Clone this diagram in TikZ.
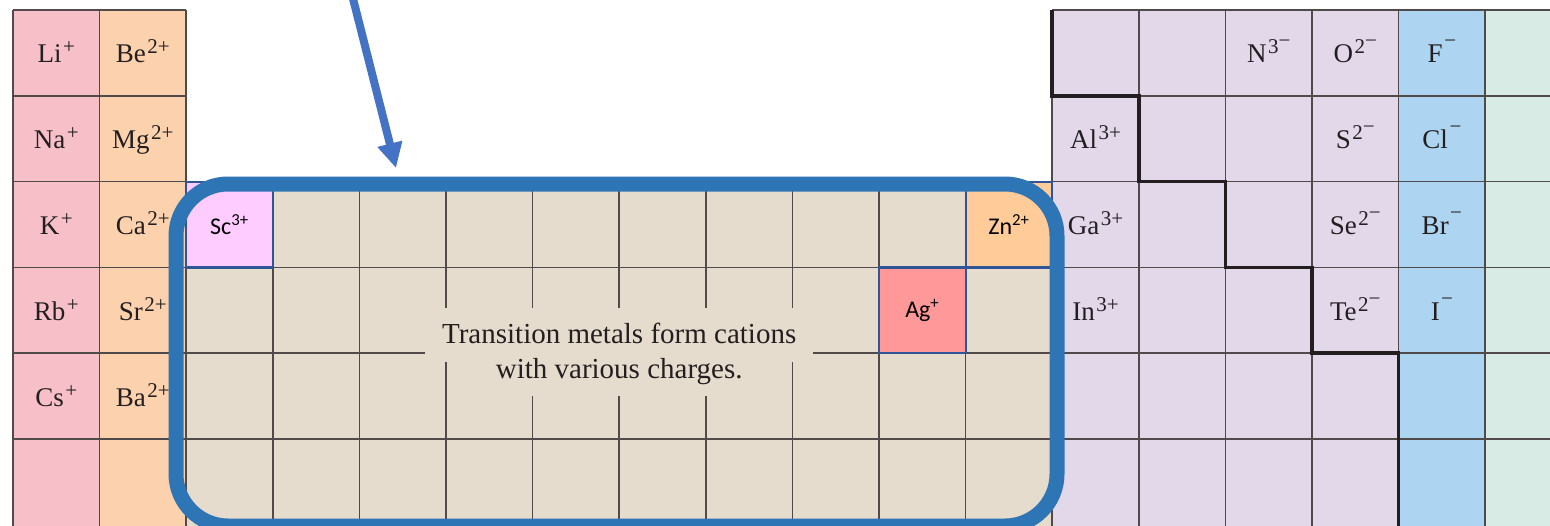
\documentclass[tikz,border=0pt]{standalone}
\usepackage{fontspec}
\setmainfont{Liberation Serif}
\newfontfamily\calfont{Carlito}
\usetikzlibrary{arrows.meta}
\definecolor{alkali}{HTML}{F7C0C9}
\definecolor{alkearth}{HTML}{FCD2AE}
\definecolor{transit}{HTML}{E6DCCE}
\definecolor{pblock}{HTML}{E3D7EA}
\definecolor{halogen}{HTML}{ADD5F1}
\definecolor{noble}{HTML}{D8EBE4}
\definecolor{gridcol}{HTML}{504B4A}
\definecolor{inkcol}{HTML}{231F20}
\definecolor{boxblue}{HTML}{2E75B6}
\definecolor{arrowblue}{HTML}{4472C4}
\definecolor{cellblue}{HTML}{2F5597}
\definecolor{scfill}{HTML}{FFCCFF}
\definecolor{znfill}{HTML}{FFCC99}
\definecolor{agfill}{HTML}{FF9999}
\newcommand\chgsup[1]{\kern1.5pt\raisebox{9pt}{\fontsize{21}{21}\selectfont #1}}
\newcommand\ngm{\raisebox{6pt}{−}}
\begin{document}
\begin{tikzpicture}[x=1pt,y=-1pt,
  gridline/.style={draw=gridcol,line width=1.6pt},
  stair/.style={draw=inkcol,line width=3.5pt,line join=miter},
  ionlbl/.style={anchor=base,inner sep=0pt,text=inkcol,font=\fontsize{27}{27}\selectfont},
  hicell/.style={draw=cellblue,line width=2.2pt,minimum width=86.6pt,minimum height=85.8pt,inner sep=0pt,text=black,font=\calfont\fontsize{24}{24}\selectfont},
  tmbox/.style={draw=boxblue,line width=15pt,rounded corners=52pt,inner sep=0pt,minimum width=881pt,minimum height=342pt},
  pointer/.style={draw=arrowblue,line width=8pt,-{Triangle[length=25pt,width=24pt]}},
  note/.style={align=center,text=inkcol,font=\fontsize{29}{35}\selectfont,inner sep=0pt}
]
\useasboundingbox (0,0) rectangle (1550,525);
\clip (0,0) rectangle (1550,525);
\fill[white] (0,0) rectangle (1550,525);

% colour blocks
\fill[alkali] (13,10) rectangle (99.6,530);
\fill[alkearth] (99.6,10) rectangle (186.2,530);
\fill[transit] (186.2,181.6) rectangle (1052.2,530);
\fill[pblock] (1052.2,10) rectangle (1398.6,530);
\fill[halogen] (1398.6,10) rectangle (1485.2,530);
\fill[noble] (1485.2,10) rectangle (1560,530);

% left block grid
\foreach \i in {0,1,2} \draw[gridline] ({13+86.6*\i},10) -- ({13+86.6*\i},530);
\foreach \j in {0,...,5} \draw[gridline] (13,{10+85.8*\j}) -- (186.2,{10+85.8*\j});
% p-block grid
\foreach \i in {12,...,17} \draw[gridline] ({13+86.6*\i},10) -- ({13+86.6*\i},530);
\foreach \j in {0,...,5} \draw[gridline] (1052.2,{10+85.8*\j}) -- (1560,{10+85.8*\j});
% transition block grid
\foreach \j in {2,3,5} \draw[gridline] (186.2,{10+85.8*\j}) -- (1052.2,{10+85.8*\j});
\draw[gridline] (186.2,353.2) -- (425,353.2);
\draw[gridline] (812.7,353.2) -- (1052.2,353.2);
\foreach \i in {3,4,10,11} \draw[gridline] ({13+86.6*\i},181.6) -- ({13+86.6*\i},530);
\foreach \i in {5,9} {
  \draw[gridline] ({13+86.6*\i},181.6) -- ({13+86.6*\i},308);
  \draw[gridline] ({13+86.6*\i},362) -- ({13+86.6*\i},530);
}
\foreach \i in {6,7,8} {
  \draw[gridline] ({13+86.6*\i},181.6) -- ({13+86.6*\i},308);
  \draw[gridline] ({13+86.6*\i},396) -- ({13+86.6*\i},530);
}

% metal / non-metal staircase
\draw[stair] (1052.2,10) -- (1052.2,95.8) -- (1138.8,95.8) -- (1138.8,181.6)
  -- (1225.4,181.6) -- (1225.4,267.4) -- (1312,267.4) -- (1312,353.2)
  -- (1398.6,353.2) -- (1398.6,530);

% ion labels
\foreach \c/\r/\nm/\el/\q in {
  0/0/li/Li/+, 1/0/be/Be/2+, 0/1/na/Na/+, 1/1/mg/Mg/2+,
  0/2/k/K/+, 1/2/ca/Ca/2+, 0/3/rb/Rb/+, 1/3/sr/Sr/2+,
  0/4/cs/Cs/+, 1/4/ba/Ba/2+,
  14/0/n/N/3\ngm, 15/0/o/O/2\ngm, 16/0/f/F/\ngm,
  12/1/al/Al/3+, 15/1/s/S/2\ngm, 16/1/cl/Cl/\ngm,
  12/2/ga/Ga/3+, 15/2/se/Se/2\ngm, 16/2/br/Br/\ngm,
  12/3/in/In/3+, 15/3/te/Te/2\ngm, 16/3/i/I/\ngm}
  \node[ionlbl] (\nm) at ({13+86.6*(\c+0.5)},{10+85.8*(\r+0.5)+10}) {\el\chgsup{\q}};

% highlighted transition-metal cells
\node[hicell,fill=scfill] (sc) at (229.5,224.5) {Sc\textsuperscript{3+}};
\node[hicell,fill=znfill] (zn) at (1008.9,224.5) {Zn\textsuperscript{2+}};
\node[hicell,fill=agfill] (ag) at (922.3,310.3) {Ag\textsuperscript{+}};

% caption inside the block
\node[note] (tmnote) at (619.2,354) {Transition metals form cations\\with various charges.};

% blue rounded frame and arrow
\node[tmbox] (tmregion) at (616.5,355) {};
\coordinate (ptrstart) at (347,-25);
\coordinate (ptrtip) at (396,168);
\draw[pointer] (ptrstart) -- (ptrtip);
\end{tikzpicture}
\end{document}
